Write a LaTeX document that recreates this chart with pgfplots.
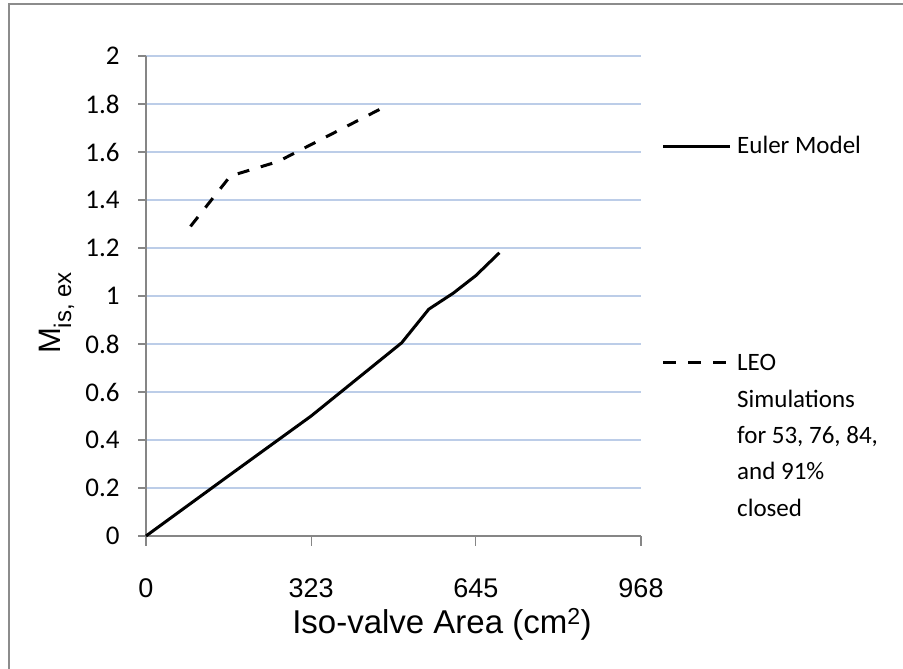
\documentclass[border=0pt]{standalone}
\usepackage{pgfplots}
\pgfplotsset{compat=1.18}
\usepackage{fontspec}
\setmainfont{Carlito}
\newfontfamily\arial{Liberation Sans}
\definecolor{gridblue}{RGB}{188,205,232}
\definecolor{axisgray}{RGB}{134,134,134}
\definecolor{framegray}{RGB}{140,140,140}
\begin{document}
\begin{tikzpicture}[x=1pt,y=1pt]
\useasboundingbox (0,0) rectangle (903,669);
\draw[framegray, line width=2pt] (9,0) -- (9,665) -- (903,665);
\begin{axis}[
  at={(146pt,133pt)}, anchor=south west,
  scale only axis, width=495pt, height=480pt,
  xmin=0, xmax=968, ymin=0, ymax=2,
  xtick={0,323,645,968},
  ytick={0,0.2,0.4,0.6,0.8,1,1.2,1.4,1.6,1.8,2},
  yticklabels={0,0.2,0.4,0.6,0.8,1,1.2,1.4,1.6,1.8,2},
  xticklabels={0,323,645,968},
  axis x line*=bottom, axis y line*=left,
  axis line style={-, axisgray, line width=1.3pt},
  tick align=outside,
  tick style={axisgray, line width=1.3pt},
  xtick style={/pgfplots/major tick length=10pt},
  ytick style={/pgfplots/major tick length=7.5pt},
  ymajorgrids, grid style={gridblue, line width=1.3pt},
  yticklabel style={font=\fontsize{27}{27}\selectfont, anchor=east, inner sep=0pt, xshift=-22pt},
  xticklabel style={font=\arial\fontsize{27}{27}\selectfont, anchor=north, inner sep=0pt, yshift=-38pt},
  xlabel={\arial\fontsize{33}{33}\selectfont Iso-valve Area (cm\textsuperscript{2})},
  xlabel style={at={(axis description cs:0.598,-0.204)}, anchor=base, inner sep=0pt},
  ylabel={\arial\fontsize{31}{31}\selectfont M\raisebox{-11pt}{\fontsize{24}{24}\selectfont is, ex}},
  ylabel style={at={(axis description cs:-0.1737,0.4646)}, anchor=base, inner sep=0pt},
  clip=false,
]
\addplot[black, line width=3pt, line join=round] coordinates {
  (0,0) (161,0.25) (323,0.5) (500,0.805) (553,0.945) (601,1.012) (645,1.085) (691,1.18)
};
\addplot[black, line width=3pt, dash pattern=on 12pt off 12pt, line join=round] coordinates {
  (87,1.29) (165,1.5) (258,1.56) (461,1.782)
};
\end{axis}
% legend
\draw[black, line width=3pt] (663,522) -- (730,522);
\node[anchor=base west, inner sep=0pt, font=\fontsize{25}{25}\selectfont] at (737,515) {Euler Model};
\draw[black, line width=3pt, dash pattern=on 13pt off 12pt] (663,306) -- (730,306);
\node[anchor=base west, inner sep=0pt, font=\fontsize{25}{25}\selectfont] at (737,298) {LEO};
\node[anchor=base west, inner sep=0pt, font=\fontsize{25}{25}\selectfont] at (737,261) {Simulations};
\node[anchor=base west, inner sep=0pt, font=\fontsize{25}{25}\selectfont] at (737,225) {for 53, 76, 84,};
\node[anchor=base west, inner sep=0pt, font=\fontsize{25}{25}\selectfont] at (737,189) {and 91\%};
\node[anchor=base west, inner sep=0pt, font=\fontsize{25}{25}\selectfont] at (737,152) {closed};
\end{tikzpicture}
\end{document}
